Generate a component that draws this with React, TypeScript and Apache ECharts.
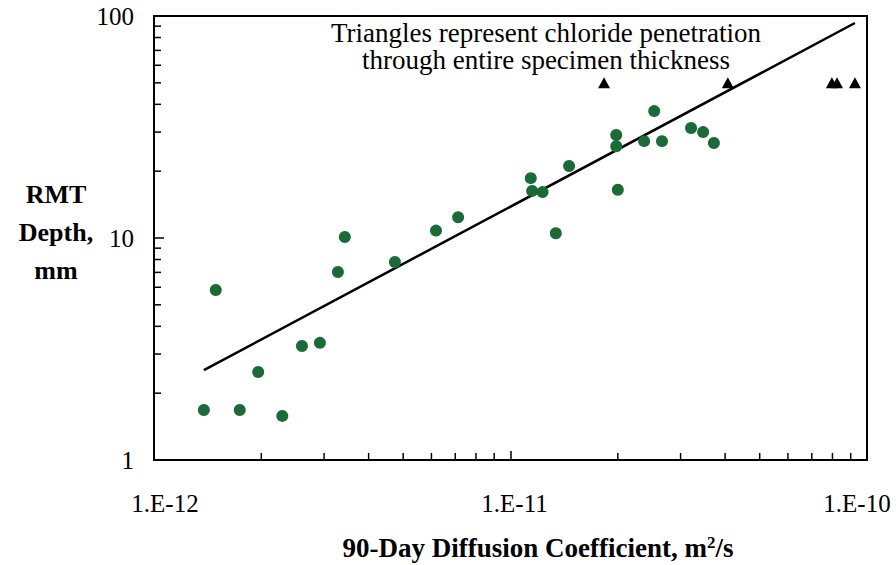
import React, { useEffect, useRef } from "react";
import * as echarts from "echarts";

// Measured points: [diffusion coefficient m2/s, RMT depth mm]
const circlePoints: [number, number][] = [
  [1.38e-12, 1.68], [1.49e-12, 5.83], [1.74e-12, 1.68], [1.96e-12, 2.49],
  [2.29e-12, 1.58], [2.6e-12, 3.26], [2.92e-12, 3.37], [3.28e-12, 7.03],
  [3.43e-12, 10.1], [4.74e-12, 7.8], [6.18e-12, 10.8], [7.13e-12, 12.4],
  [1.14e-11, 18.6], [1.15e-11, 16.3], [1.23e-11, 16.1], [1.34e-11, 10.5],
  [1.46e-11, 21.1], [1.98e-11, 29.1], [1.98e-11, 25.9], [2.0e-11, 16.5],
  [2.37e-11, 27.3], [2.53e-11, 37.3], [2.66e-11, 27.3], [3.21e-11, 31.3],
  [3.47e-11, 30.0], [3.72e-11, 26.8],
];
// Specimens penetrated through entire thickness (plotted at 50 mm)
const trianglePoints: [number, number][] = [
  [1.83e-11, 50], [4.07e-11, 50], [7.97e-11, 50], [8.24e-11, 50], [9.25e-11, 50],
];
// Power-law trend line end points
const trendPoints: [number, number][] = [
  [1.38e-12, 2.54], [9.25e-11, 93],
];
const xMinorTicks = [2, 3, 4, 5, 6, 7, 8, 9].flatMap((m) => [m * 1e-12, m * 1e-11]);
const yMinorTicks = [2, 3, 4, 5, 6, 7, 8, 9].flatMap((m) => [m, m * 10]);

const FONT = "Liberation Serif";

export default function App() {
  const ref = useRef<HTMLDivElement>(null);
  useEffect(() => {
    if (!ref.current) return;
    const chart = echarts.init(ref.current, null, { renderer: "svg" });
    const labelStyle = { fontFamily: FONT, fontSize: 25, color: "#000" };
    chart.setOption({
      animation: false,
      backgroundColor: "#fff",
      grid: {
        left: 154, right: 29, top: 16, bottom: 105,
        outerBoundsMode: "none", containLabel: false,
        show: true, borderColor: "#000", borderWidth: 2,
      },
      xAxis: {
        type: "log", logBase: 10, min: 1e-12, max: 1e-10,
        axisLine: { show: true, lineStyle: { color: "#000", width: 2 } },
        axisTick: { show: true, inside: true, length: 9, lineStyle: { color: "#000", width: 1.5 } },
        splitLine: { show: false },
        axisLabel: {
          margin: 31, color: "#000", fontFamily: FONT, fontSize: 25,
          formatter: (v: number) => {
            const e = Math.round(Math.log10(v));
            const key = e <= -12 ? "a" : e === -11 ? "b" : "c";
            return `{${key}|1.E${e}}`;
          },
          rich: {
            a: { ...labelStyle, padding: [0, 0, 0, 22] },
            b: { ...labelStyle, padding: [0, 0, 0, 8] },
            c: { ...labelStyle, padding: [0, 20, 0, 0] },
          },
        },
      },
      yAxis: {
        type: "log", logBase: 10, min: 1, max: 100,
        axisLine: { show: true, lineStyle: { color: "#000", width: 2 } },
        axisTick: { show: true, inside: true, length: 10, lineStyle: { color: "#000", width: 1.5 } },
        splitLine: { show: false },
        axisLabel: {
          margin: 20, color: "#000", fontFamily: FONT, fontSize: 25,
          formatter: (v: number) => String(Math.round(v)),
        },
      },
      graphic: [
        {
          type: "text", x: 56, y: 175,
          style: {
            text: "RMT\nDepth,\nmm", fill: "#000", font: `bold 26px '${FONT}'`,
            align: "center", verticalAlign: "top", lineHeight: 38,
          },
        },
        {
          type: "text", x: 546, y: 19,
          style: {
            text: "Triangles represent chloride penetration\nthrough entire specimen thickness",
            fill: "#000", font: `27px '${FONT}'`, align: "center", verticalAlign: "top", lineHeight: 27,
          },
        },
        {
          type: "text", x: 538, y: 548,
          style: {
            text: "90-Day Diffusion Coefficient, m{sup|2}/s",
            fill: "#000", font: `bold 27px '${FONT}'`, align: "center", verticalAlign: "middle",
            rich: { sup: { font: `bold 17px '${FONT}'`, fill: "#000", verticalAlign: "top", padding: [0, 0, 12, 0] } },
          },
        },
      ],
      series: [
        {
          type: "scatter", silent: true, clip: false, z: 1,
          data: xMinorTicks.map((v) => [v, 1]),
          symbol: "rect", symbolSize: [1.5, 7], symbolOffset: [0, -3.5],
          itemStyle: { color: "#000", opacity: 1 },
        },
        {
          type: "scatter", silent: true, clip: false, z: 1,
          data: yMinorTicks.map((v) => [1e-12, v]),
          symbol: "rect", symbolSize: [7, 1.5], symbolOffset: [3.5, 0],
          itemStyle: { color: "#000", opacity: 1 },
        },
        {
          type: "line", data: trendPoints, showSymbol: false, symbol: "none",
          lineStyle: { color: "#000", width: 2.5 }, z: 2,
        },
        {
          type: "scatter", data: circlePoints, symbol: "circle", symbolSize: 12,
          itemStyle: { color: "#1b6b38", opacity: 1 }, z: 3,
        },
        {
          type: "scatter", data: trianglePoints, symbol: "triangle", symbolSize: [12, 11],
          itemStyle: { color: "#000", opacity: 1 }, z: 3,
        },
      ],
    });
    return () => chart.dispose();
  }, []);
  return <div ref={ref} style={{ width: 896, height: 565, position: "absolute", left: 0, top: 0 }} />;
}
